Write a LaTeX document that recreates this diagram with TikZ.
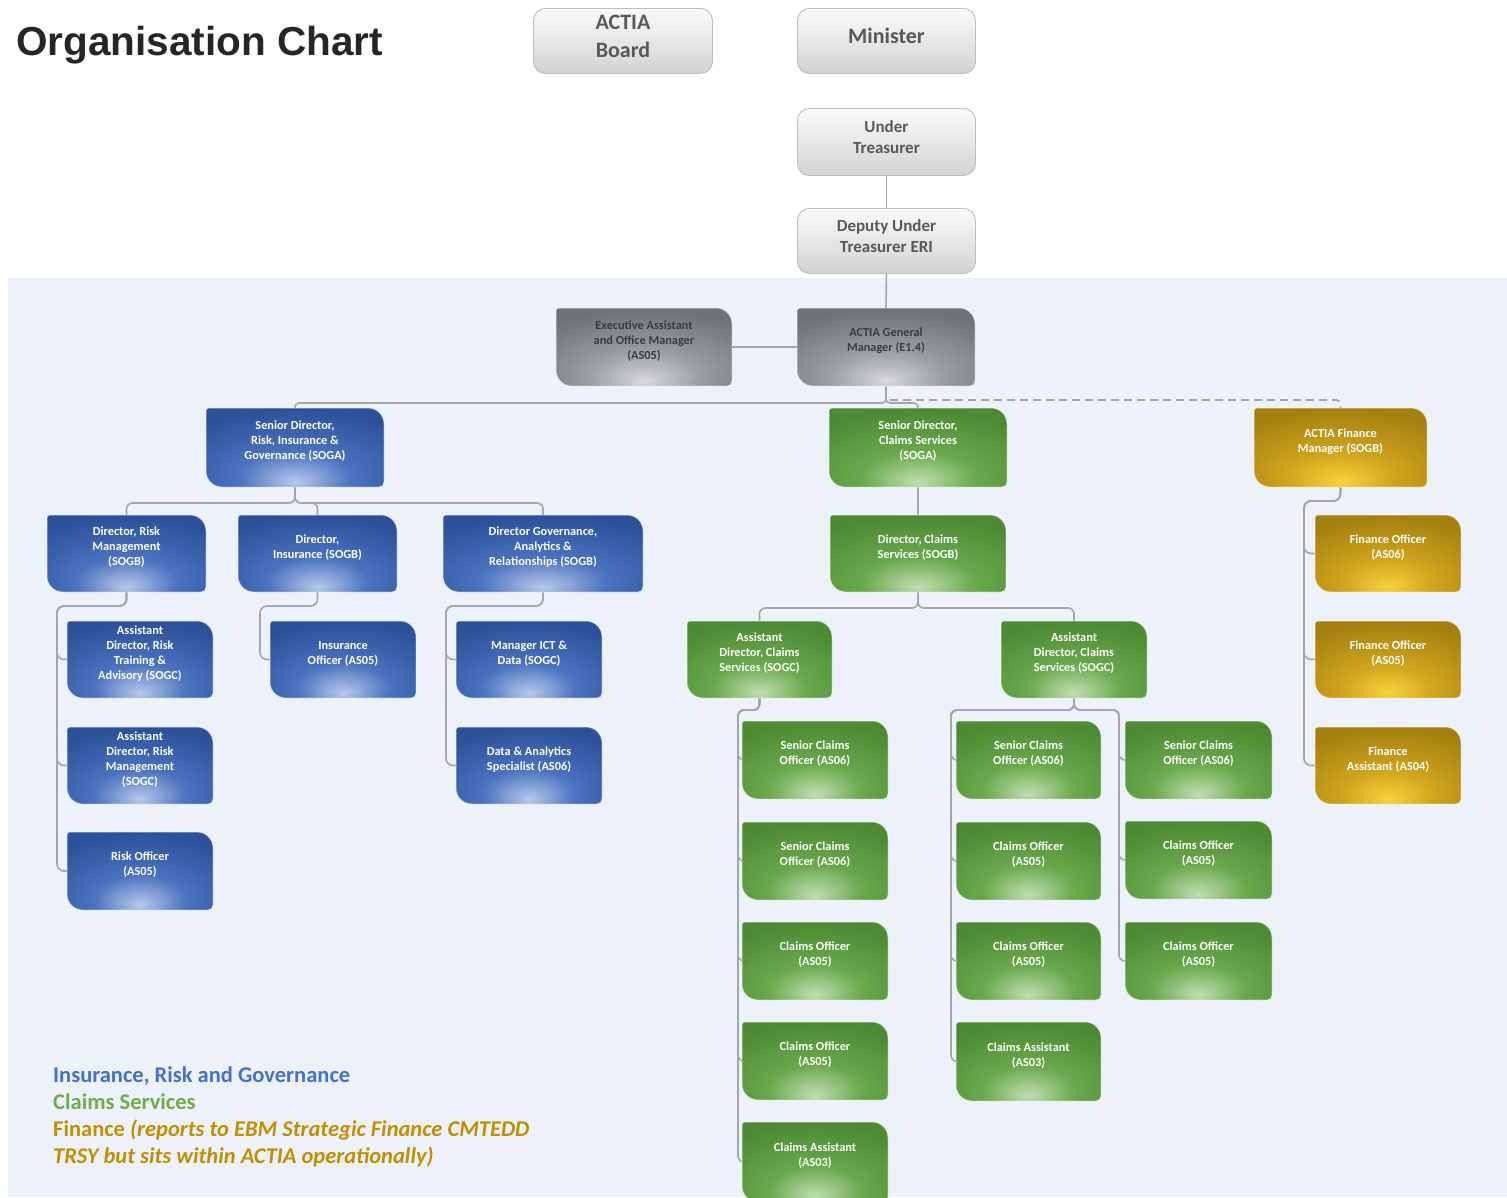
\documentclass[tikz,border=0pt]{standalone}
\usepackage{fontspec}
\setmainfont{Carlito}
\newfontfamily\titlefont{Liberation Sans}
\usetikzlibrary{calc}
\definecolor{panel}{HTML}{EDF1F9}
\definecolor{titlec}{HTML}{262626}
\definecolor{lineg}{HTML}{A3A7AD}
\definecolor{tTop}{HTML}{FAFAFA}
\definecolor{tBot}{HTML}{D3D3D3}
\definecolor{tBrd}{HTML}{BDBDBD}
\definecolor{tTxt}{HTML}{595959}
\definecolor{dTxt}{HTML}{3C3C3C}
\definecolor{bL}{HTML}{B7C9EC}
\definecolor{bM}{HTML}{4A72BE}
\definecolor{bD}{HTML}{2C519A}
\definecolor{gL}{HTML}{C2DEB2}
\definecolor{gM}{HTML}{69A94C}
\definecolor{gD}{HTML}{4C8A33}
\definecolor{yL}{HTML}{F8D33A}
\definecolor{yM}{HTML}{CFA31C}
\definecolor{yD}{HTML}{A3800F}
\definecolor{kL}{HTML}{D6D8DC}
\definecolor{kM}{HTML}{9A9DA2}
\definecolor{kD}{HTML}{6E7176}
\definecolor{legblue}{HTML}{4472C4}
\definecolor{leggreen}{HTML}{70AD47}
\definecolor{leggold}{HTML}{BF9000}
\pgfdeclareradialshading{blueglow}{\pgfpoint{0bp}{-22bp}}{color(0bp)=(bL); color(16bp)=(bM); color(38bp)=(bD); color(100bp)=(bD)}
\pgfdeclareradialshading{greenglow}{\pgfpoint{0bp}{-22bp}}{color(0bp)=(gL); color(16bp)=(gM); color(38bp)=(gD); color(100bp)=(gD)}
\pgfdeclareradialshading{goldglow}{\pgfpoint{0bp}{-22bp}}{color(0bp)=(yL); color(16bp)=(yM); color(38bp)=(yD); color(100bp)=(yD)}
\pgfdeclareradialshading{grayglow}{\pgfpoint{0bp}{-22bp}}{color(0bp)=(kL); color(16bp)=(kM); color(38bp)=(kD); color(100bp)=(kD)}
\pgfdeclarelayer{bg}
\pgfdeclarelayer{lines}
\pgfdeclarelayer{boxes}
\pgfsetlayers{bg,lines,boxes,main}
\tikzset{
  boxtxt/.style={font=\bfseries\fontsize{12.3}{15}\selectfont, align=center, inner sep=0pt},
  conn/.style={draw=lineg, line width=1.6pt, rounded corners=7pt},
  legend/.style={anchor=base west, inner sep=0pt, font=\bfseries\fontsize{22.5}{27}\selectfont},
}
% #1 name, #2 x, #3 y, #4 w, #5 h, #6 shading, #7 text colour, #8 text
\newcommand\obox[8]{%
  \node[anchor=north west, minimum width=#4pt, minimum height=#5pt, inner sep=0pt, outer sep=0pt] (#1) at (#2,#3) {};
  \begin{pgfonlayer}{boxes}
  \path[shade, shading=#6, draw=white, draw opacity=0.45, line width=1pt]
    ([xshift=3pt]#1.north west) -- ([xshift=-16pt]#1.north east)
    .. controls ([xshift=-7pt]#1.north east) and ([yshift=-7pt]#1.north east) .. ([yshift=-16pt]#1.north east)
    -- ([yshift=5pt]#1.south east)
    .. controls ([yshift=2pt]#1.south east) and ([xshift=-2pt]#1.south east) .. ([xshift=-5pt]#1.south east)
    -- ([xshift=16pt]#1.south west)
    .. controls ([xshift=7pt]#1.south west) and ([yshift=7pt]#1.south west) .. ([yshift=16pt]#1.south west)
    -- ([yshift=-3pt]#1.north west)
    .. controls ([yshift=-1pt]#1.north west) and ([xshift=1pt]#1.north west) .. ([xshift=3pt]#1.north west) -- cycle;
  \end{pgfonlayer}
  \node[boxtxt, text=#7] (#1-t) at ([yshift=6pt]#1.center) {#8};
}
% #1 name, #2 x, #3 y, #4 w, #5 h, #6 font, #7 text
\newcommand\tbox[7]{%
  \node[anchor=north west, minimum width=#4pt, minimum height=#5pt, inner sep=0pt, rounded corners=12pt,
        top color=tTop, bottom color=tBot, draw=tBrd, line width=0.9pt] (#1) at (#2,#3) {};
  \node[align=center, inner sep=0pt, text=tTxt, font=\bfseries#6] (#1-t) at ([yshift=5pt]#1.center) {#7};
}
\begin{document}
\begin{tikzpicture}[x=1pt,y=-1pt]
\useasboundingbox (0,0) rectangle (1507,1197);
\begin{pgfonlayer}{bg}
  \fill[white] (0,0) rectangle (1507,1197);
  \fill[panel] (8,278) rectangle (1507,1197);
\end{pgfonlayer}

\node[anchor=base west, inner sep=0pt, text=titlec, font=\titlefont\bfseries\fontsize{40.5}{48}\selectfont] (title) at (16,55) {Organisation Chart};

% top boxes
\tbox{board}{533}{8}{179}{65}{\fontsize{22}{28}\selectfont}{ACTIA\\Board}
\tbox{minister}{797}{8}{178}{65}{\fontsize{22}{28}\selectfont}{Minister}
\tbox{ut}{797}{108}{178}{67}{\fontsize{17}{21}\selectfont}{Under\\Treasurer}
\tbox{dut}{797}{208}{178}{65}{\fontsize{17}{21}\selectfont}{Deputy Under\\Treasurer ERI}

% grey
\obox{ea}{556}{308}{176}{78}{grayglow}{dTxt}{Executive Assistant\\and Office Manager\\(AS05)}
\obox{gm}{797}{308}{178}{78}{grayglow}{dTxt}{ACTIA General\\Manager (E1.4)}

% blue
\obox{sdr}{206}{408}{178}{79}{blueglow}{white}{Senior Director,\\Risk, Insurance \&\\Governance (SOGA)}
\obox{drm}{47}{515}{159}{77}{blueglow}{white}{Director, Risk\\Management\\(SOGB)}
\obox{dins}{238}{515}{159}{77}{blueglow}{white}{Director,\\Insurance (SOGB)}
\obox{dgov}{443}{515}{200}{77}{blueglow}{white}{Director Governance,\\Analytics \&\\Relationships (SOGB)}
\obox{adrt}{67}{621}{146}{77}{blueglow}{white}{Assistant\\Director, Risk\\Training \&\\Advisory (SOGC)}
\obox{adrm}{67}{727}{146}{77}{blueglow}{white}{Assistant\\Director, Risk\\Management\\(SOGC)}
\obox{ro}{67}{832}{146}{78}{blueglow}{white}{Risk Officer\\(AS05)}
\obox{io}{270}{621}{146}{77}{blueglow}{white}{Insurance\\Officer (AS05)}
\obox{mict}{456}{621}{146}{77}{blueglow}{white}{Manager ICT \&\\Data (SOGC)}
\obox{das}{456}{727}{146}{77}{blueglow}{white}{Data \& Analytics\\Specialist (AS06)}

% green
\obox{sdc}{829}{408}{178}{79}{greenglow}{white}{Senior Director,\\Claims Services\\(SOGA)}
\obox{dcs}{830}{515}{176}{77}{greenglow}{white}{Director, Claims\\Services (SOGB)}
\obox{adc1}{687}{621}{145}{77}{greenglow}{white}{Assistant\\Director, Claims\\Services (SOGC)}
\obox{adc2}{1001}{621}{146}{77}{greenglow}{white}{Assistant\\Director, Claims\\Services (SOGC)}
\obox{a1}{742}{721}{146}{78}{greenglow}{white}{Senior Claims\\Officer (AS06)}
\obox{a2}{742}{822}{146}{78}{greenglow}{white}{Senior Claims\\Officer (AS06)}
\obox{a3}{742}{922}{146}{78}{greenglow}{white}{Claims Officer\\(AS05)}
\obox{a4}{742}{1022}{146}{78}{greenglow}{white}{Claims Officer\\(AS05)}
\obox{a5}{742}{1122}{146}{80}{greenglow}{white}{Claims Assistant\\(AS03)}
\obox{b1}{956}{721}{145}{78}{greenglow}{white}{Senior Claims\\Officer (AS06)}
\obox{b2}{956}{822}{145}{78}{greenglow}{white}{Claims Officer\\(AS05)}
\obox{b3}{956}{922}{145}{78}{greenglow}{white}{Claims Officer\\(AS05)}
\obox{b4}{956}{1022}{145}{79}{greenglow}{white}{Claims Assistant\\(AS03)}
\obox{c1}{1125}{721}{147}{78}{greenglow}{white}{Senior Claims\\Officer (AS06)}
\obox{c2}{1125}{821}{147}{78}{greenglow}{white}{Claims Officer\\(AS05)}
\obox{c3}{1125}{922}{147}{78}{greenglow}{white}{Claims Officer\\(AS05)}

% gold
\obox{fm}{1254}{408}{173}{79}{goldglow}{white}{ACTIA Finance\\Manager (SOGB)}
\obox{fo1}{1315}{515}{146}{77}{goldglow}{white}{Finance Officer\\(AS06)}
\obox{fo2}{1315}{621}{146}{77}{goldglow}{white}{Finance Officer\\(AS05)}
\obox{fa}{1315}{727}{146}{77}{goldglow}{white}{Finance\\Assistant (AS04)}

% connectors
\begin{pgfonlayer}{lines}
\draw[conn] (ut.south) -- (dut.north);
\draw[conn] (dut.south) -- (gm.north);
\draw[conn] (ea.east) -- (gm.west);
\draw[conn, rounded corners=4pt] (gm.south) -- ++(0,17) -| (sdr.north);
\draw[conn, rounded corners=4pt] (gm.south) -- ++(0,17) -| (sdc.north);
\draw[conn, rounded corners=4pt, dashed, dash pattern=on 8pt off 5pt] ([xshift=4pt]gm.south) ++(0,14) -| (fm.north);

\draw[conn, rounded corners=6pt] (sdr.south) -- ++(0,16) -| (drm.north);
\draw[conn, rounded corners=6pt] (sdr.south) -- ++(0,16) -| (dins.north);
\draw[conn, rounded corners=6pt] (sdr.south) -- ++(0,16) -| (dgov.north);

\draw[conn] (drm.south) -- ++(0,14) -| ([xshift=-10pt]adrt.west) -- (adrt.west);
\draw[conn] (drm.south) -- ++(0,14) -| ([xshift=-10pt]adrm.west) -- (adrm.west);
\draw[conn] (drm.south) -- ++(0,14) -| ([xshift=-10pt]ro.west) -- (ro.west);
\draw[conn] (dins.south) -- ++(0,14) -| ([xshift=-10pt]io.west) -- (io.west);
\draw[conn] (dgov.south) -- ++(0,14) -| ([xshift=-10pt]mict.west) -- (mict.west);
\draw[conn] (dgov.south) -- ++(0,14) -| ([xshift=-10pt]das.west) -- (das.west);

\draw[conn] (sdc.south) -- (dcs.north);
\draw[conn, rounded corners=6pt] (dcs.south) -- ++(0,16) -| (adc1.north);
\draw[conn, rounded corners=6pt] (dcs.south) -- ++(0,16) -| (adc2.north);

\foreach \n in {a1,a2,a3,a4,a5}
  \draw[conn, rounded corners=6pt] (adc1.south) -- ++(0,12) -| ([xshift=-4pt]\n.west) -- (\n.west);
\foreach \n in {b1,b2,b3,b4}
  \draw[conn, rounded corners=6pt] (adc2.south) -- ++(0,12) -| ([xshift=-5pt]\n.west) -- (\n.west);
\foreach \n in {c1,c2,c3}
  \draw[conn, rounded corners=6pt] (adc2.south) -- ++(0,12) -| ([xshift=-6pt]\n.west) -- (\n.west);

\foreach \n in {fo1,fo2,fa}
  \draw[conn] (fm.south) -- ++(0,14) -| ([xshift=-11pt]\n.west) -- (\n.west);
\end{pgfonlayer}

% legend
\node[legend, text=legblue] (lg1) at (53,1082) {Insurance, Risk and Governance};
\node[legend, text=leggreen] (lg2) at (53,1109) {Claims Services};
\node[legend, text=leggold] (lg3) at (53,1136) {Finance \textit{(reports to EBM Strategic Finance CMTEDD}};
\node[legend, text=leggold] (lg4) at (53,1163) {\textit{TRSY but sits within ACTIA operationally)}};
\end{tikzpicture}
\end{document}
